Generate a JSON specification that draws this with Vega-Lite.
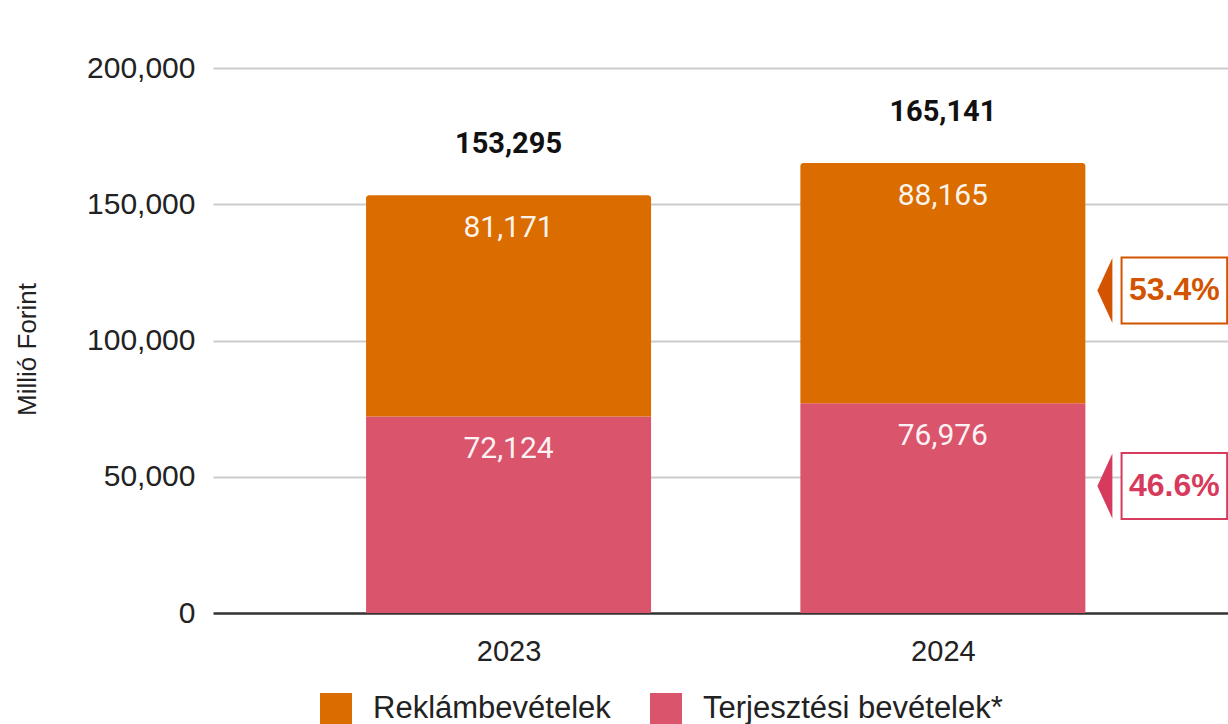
{
  "$schema": "https://vega.github.io/schema/vega-lite/v6.json",
  "width": 1015,
  "height": 545,
  "autosize": {"type": "none"},
  "padding": {"left": 213, "top": 68, "right": 0, "bottom": 111},
  "background": "white",
  "config": {"view": {"stroke": null}},
  "datasets": {
    "revenue": [
      {"year": 2023, "category": "Reklámbevételek", "value": 81171},
      {"year": 2023, "category": "Terjesztési bevételek*", "value": 72124},
      {"year": 2024, "category": "Reklámbevételek", "value": 88165},
      {"year": 2024, "category": "Terjesztési bevételek*", "value": 76976}
    ]
  },
  "layer": [
    {
      "data": {"name": "revenue"},
      "transform": [
        {"stack": "value", "groupby": ["year"], "sort": [{"field": "category", "order": "descending"}], "as": ["v0", "v1"]}
      ],
      "encoding": {
        "x": {
          "field": "year", "type": "quantitative",
          "scale": {"domain": [2022.331, 2024.645], "nice": false, "zero": false},
          "axis": {
            "values": [2023, 2024], "format": "d", "title": null, "grid": false, "ticks": false, "domain": false,
            "labelFontSize": 29, "labelFont": "Liberation Sans", "labelColor": "#222222", "labelPadding": 24
          }
        },
        "y": {
          "field": "v1", "type": "quantitative",
          "scale": {"domain": [0, 200000], "nice": false},
          "axis": {
            "values": [0, 50000, 100000, 150000, 200000], "format": ",d",
            "title": "Millió Forint", "titleFont": "Liberation Sans", "titleFontSize": 26, "titleFontWeight": "normal",
            "titleColor": "#222222", "titleX": -186, "titleY": 281, "titleAngle": -90, "titleAlign": "center", "titleBaseline": "middle",
            "labelFontSize": 30, "labelFont": "Liberation Sans", "labelColor": "#222222", "labelPadding": 18,
            "ticks": false, "domain": false,
            "gridColor": {"condition": {"test": "datum.value === 0", "value": "#333333"}, "value": "#cccccc"},
            "gridWidth": {"condition": {"test": "datum.value === 0", "value": 2.5}, "value": 2}
          }
        }
      },
      "layer": [
        {
          "transform": [{"filter": "datum.category === 'Terjesztési bevételek*'"}],
          "mark": {"type": "bar", "width": 285},
          "encoding": {
            "y2": {"field": "v0"},
            "color": {
              "field": "category", "type": "nominal",
              "scale": {"domain": ["Reklámbevételek", "Terjesztési bevételek*"], "range": ["#DA6C00", "#DA546C"]},
              "legend": {
                "title": null, "orient": "none", "legendX": 107, "legendY": 625, "direction": "horizontal",
                "symbolType": "square", "symbolSize": 1024, "symbolStrokeWidth": 0, "symbolOpacity": 1,
                "labelFontSize": 31, "labelFont": "Liberation Sans", "labelColor": "#222222",
                "labelOffset": 21, "columnPadding": 39, "labelLimit": 500
              }
            }
          }
        },
        {
          "transform": [{"filter": "datum.category === 'Reklámbevételek'"}],
          "mark": {"type": "bar", "width": 285, "cornerRadiusTopLeft": 3, "cornerRadiusTopRight": 3},
          "encoding": {
            "y2": {"field": "v0"},
            "color": {"field": "category", "type": "nominal"}
          }
        },
        {
          "mark": {"type": "text", "font": "Roboto", "fontSize": 30, "color": "#FFFFFF", "opacity": 0.92, "dy": 33, "baseline": "middle"},
          "encoding": {
            "text": {"field": "value", "type": "quantitative", "format": ","}
          }
        }
      ]
    },
    {
      "data": {"name": "revenue"},
      "transform": [{"aggregate": [{"op": "sum", "field": "value", "as": "total"}], "groupby": ["year"]}],
      "mark": {"type": "text", "font": "Roboto", "fontWeight": "bold", "fontSize": 29, "color": "#111111", "dy": -51, "baseline": "middle"},
      "encoding": {
        "x": {"field": "year", "type": "quantitative"},
        "y": {"field": "total", "type": "quantitative"},
        "text": {"field": "total", "type": "quantitative", "format": ","}
      }
    },
    {
      "data": {"values": [{"category": "Reklámbevételek", "share": 0.534}]},
      "layer": [
        {
          "mark": {"type": "point", "shape": "M-1,0L1,-4.33L1,4.33Z", "size": 225, "filled": true, "color": "#D35400", "opacity": 1, "strokeWidth": 0},
          "encoding": {"x": {"datum": 2024.373}, "y": {"datum": 118349}}
        },
        {
          "mark": {"type": "point", "shape": "M-1.6,-1H1.6V1H-1.6Z", "size": 4356, "filled": false, "fill": "white", "fillOpacity": 1, "stroke": "#D35400", "strokeWidth": 2, "opacity": 1},
          "encoding": {"x": {"datum": 2024.533}, "y": {"datum": 118349}}
        },
        {
          "mark": {"type": "text", "font": "Liberation Sans", "fontWeight": "bold", "fontSize": 32, "color": "#D35400", "baseline": "middle"},
          "encoding": {"x": {"datum": 2024.533}, "y": {"datum": 118349}, "text": {"field": "share", "type": "quantitative", "format": ".1%"}}
        }
      ]
    },
    {
      "data": {"values": [{"category": "Terjesztési bevételek*", "share": 0.466}]},
      "layer": [
        {
          "mark": {"type": "point", "shape": "M-1,0L1,-4.33L1,4.33Z", "size": 225, "filled": true, "color": "#D63A5C", "opacity": 1, "strokeWidth": 0},
          "encoding": {"x": {"datum": 2024.373}, "y": {"datum": 46606}}
        },
        {
          "mark": {"type": "point", "shape": "M-1.6,-1H1.6V1H-1.6Z", "size": 4356, "filled": false, "fill": "white", "fillOpacity": 1, "stroke": "#D63A5C", "strokeWidth": 2, "opacity": 1},
          "encoding": {"x": {"datum": 2024.533}, "y": {"datum": 46606}}
        },
        {
          "mark": {"type": "text", "font": "Liberation Sans", "fontWeight": "bold", "fontSize": 32, "color": "#D63A5C", "baseline": "middle"},
          "encoding": {"x": {"datum": 2024.533}, "y": {"datum": 46606}, "text": {"field": "share", "type": "quantitative", "format": ".1%"}}
        }
      ]
    }
  ]
}
